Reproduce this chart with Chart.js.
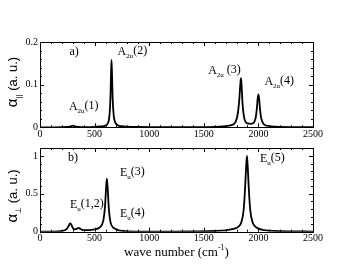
<!DOCTYPE html>
<html><head><meta charset="utf-8">
<script src="https://cdn.jsdelivr.net/npm/chart.js@4/dist/chart.umd.min.js"></script>
<style>
html,body{margin:0;padding:0;background:#fff;width:358px;height:273px;overflow:hidden}
canvas{position:absolute;left:0}
#c1{top:0}
#c2{top:140px}
</style></head><body>
<canvas id="c1" width="358" height="140"></canvas>
<canvas id="c2" width="358" height="133"></canvas>
<script>
// ---- data ----
const waveA = [0,100,200,250,280,300,320,350,400,500,550,600,620,635,645,650,655,660,665,675,690,710,750,800,900,1000,1200,1400,1600,1700,1750,1790,1810,1825,1835,1840,1845,1855,1870,1900,1930,1960,1975,1985,1993,2000,2007,2015,2025,2050,2100,2200,2300,2400,2500];
const alphaPar = [0,0,0.0005,0.001,0.002,0.004,0.002,0.001,0.0005,0.001,0.002,0.004,0.009,0.025,0.07,0.12,0.158,0.12,0.07,0.028,0.011,0.005,0.0025,0.0015,0.0008,0.0005,0.0004,0.0005,0.001,0.003,0.005,0.012,0.03,0.065,0.103,0.115,0.103,0.055,0.022,0.009,0.008,0.012,0.022,0.042,0.066,0.077,0.066,0.042,0.022,0.007,0.003,0.001,0.0005,0.0003,0.0002];
const waveB = [0,100,200,240,260,275,285,300,320,340,355,370,400,450,500,550,580,595,605,612,620,630,645,670,700,720,760,800,1000,1200,1400,1600,1700,1780,1820,1845,1865,1878,1887,1895,1903,1912,1925,1945,1970,2000,2050,2100,2200,2300,2500];
const alphaPerp = [0,0.001,0.01,0.03,0.07,0.11,0.10,0.05,0.03,0.04,0.05,0.035,0.02,0.02,0.03,0.06,0.15,0.33,0.57,0.70,0.57,0.31,0.13,0.055,0.032,0.018,0.009,0.005,0.002,0.002,0.004,0.009,0.018,0.04,0.07,0.13,0.29,0.57,0.84,1.0,0.84,0.57,0.29,0.13,0.07,0.04,0.022,0.014,0.007,0.004,0.002];
const xTicks = [0,500,1000,1500,2000,2500];
const yTicksA = [0,0.1,0.2];
const yTicksB = [0,0.5,1];
const labelsA = [
  {x:270,y:0.169,main:'a)',sub:'',tail:''},
  {x:265,y:0.040,main:'A',sub:'2u',tail:'(1)'},
  {x:710,y:0.170,main:'A',sub:'2u',tail:'(2)'},
  {x:1540,y:0.125,main:'A',sub:'2u',tail:' (3)'},
  {x:2055,y:0.099,main:'A',sub:'2u',tail:'(4)'}
];
const labelsB = [
  {x:257,y:0.93,main:'b)',sub:'',tail:''},
  {x:275,y:0.31,main:'E',sub:'u',tail:'(1,2)'},
  {x:733,y:0.74,main:'E',sub:'u',tail:'(3)'},
  {x:733,y:0.19,main:'E',sub:'u',tail:'(4)'},
  {x:2015,y:0.92,main:'E',sub:'u',tail:'(5)'}
];

const SERIF = '"Liberation Serif","Times New Roman",serif';
const SANS = '"Liberation Sans",Arial,sans-serif';

function frameTicks(xMajor, xStep, yMajor, yStep) {
  return {
    id: 'frameTicks',
    afterDraw(chart) {
      const {ctx, chartArea: a, scales: {x, y}} = chart;
      ctx.save();
      ctx.strokeStyle = '#000';
      ctx.lineWidth = 1;
      ctx.strokeRect(Math.round(a.left) + 0.5, Math.round(a.top) + 0.5, Math.round(a.right - a.left), Math.round(a.bottom - a.top));
      ctx.beginPath();
      for (let v = x.min; v <= x.max + 1e-9; v += xStep) {
        const major = xMajor.some(m => Math.abs(m - v) < 1e-6);
        const L = major ? 4 : 2;
        const px = Math.round(x.getPixelForValue(v)) + 0.5;
        ctx.moveTo(px, a.bottom); ctx.lineTo(px, a.bottom - L);
        ctx.moveTo(px, a.top); ctx.lineTo(px, a.top + L);
      }
      for (let v = y.min; v <= y.max + 1e-9; v += yStep) {
        const major = yMajor.some(m => Math.abs(m - v) < 1e-6);
        const L = major ? 4 : 2;
        const py = Math.round(y.getPixelForValue(v)) + 0.5;
        ctx.moveTo(a.left, py); ctx.lineTo(a.left + L, py);
        ctx.moveTo(a.right, py); ctx.lineTo(a.right - L, py);
      }
      ctx.stroke();
      ctx.restore();
    }
  };
}

function textLabels(list, ysub, ycy, xtitle) {
  return {
    id: 'textLabels',
    afterDraw(chart) {
      const {ctx, scales: {x, y}} = chart;
      ctx.save();
      ctx.fillStyle = '#000';
      ctx.textBaseline = 'alphabetic';
      ctx.textAlign = 'left';
      for (const l of list) {
        let px = x.getPixelForValue(l.x);
        const py = y.getPixelForValue(l.y);
        ctx.font = '12px ' + SERIF;
        ctx.fillText(l.main, px, py);
        px += ctx.measureText(l.main).width;
        if (l.sub) {
          ctx.font = '7px ' + SERIF;
          ctx.fillText(l.sub, px, py + 3);
          px += ctx.measureText(l.sub).width;
        }
        if (l.tail) {
          ctx.font = '12px ' + SERIF;
          ctx.fillText(l.tail, px, py - 1);
        }
      }
      // y title (rotated)
      ctx.translate(17, ycy);
      ctx.rotate(-Math.PI / 2);
      ctx.font = '15px ' + SANS;
      const w1 = ctx.measureText('α').width;
      ctx.font = '8px ' + SANS;
      const w2 = ctx.measureText(ysub).width;
      ctx.font = '13px ' + SANS;
      const w3 = ctx.measureText(' (a. u.)').width;
      let sx = -(w1 + w2 + w3) / 2;
      ctx.font = '15px ' + SANS;
      ctx.fillText('α', sx, 0); sx += w1;
      ctx.font = '8px ' + SANS;
      ctx.fillText(ysub, sx, 4); sx += w2;
      ctx.font = '13px ' + SANS;
      ctx.fillText(' (a. u.)', sx, 0);
      ctx.restore();
      if (xtitle) {
        ctx.save();
        ctx.fillStyle = '#000';
        ctx.textBaseline = 'alphabetic';
        const a = 'wave number (cm', s = '-1', b = ')';
        ctx.font = '13px ' + SERIF; const wa = ctx.measureText(a).width, wb = ctx.measureText(b).width;
        ctx.font = '8px ' + SERIF; const ws = ctx.measureText(s).width;
        const cx = (chart.chartArea.left + chart.chartArea.right) / 2;
        let sx2 = cx - (wa + ws + wb) / 2;
        const by = 116;
        ctx.font = '13px ' + SERIF; ctx.fillText(a, sx2, by); sx2 += wa;
        ctx.font = '8px ' + SERIF; ctx.fillText(s, sx2, by - 6); sx2 += ws;
        ctx.font = '13px ' + SERIF; ctx.fillText(b, sx2, by);
        ctx.restore();
      }
    }
  };
}

function makeChart(id, xs, ys, yMax, yTicks, yStep, padTop, xHeight, labels, ysub, ycy, xtitle) {
  const pts = xs.map((v, i) => ({x: v, y: ys[i]}));
  return new Chart(document.getElementById(id), {
    type: 'line',
    data: {datasets: [{data: pts, borderColor: '#000', borderWidth: 1.8, pointRadius: 0, cubicInterpolationMode: 'monotone', fill: false}]},
    options: {
      responsive: false, animation: false, devicePixelRatio: 1,
      layout: {padding: {top: padTop, right: 45, left: 0, bottom: 0}},
      plugins: {legend: {display: false}, tooltip: {enabled: false}},
      scales: {
        x: {
          type: 'linear', min: 0, max: 2500,
          afterBuildTicks: s => { s.ticks = xTicks.map(v => ({value: v})); },
          afterFit: s => { s.height = xHeight; },
          grid: {display: false, drawTicks: false}, border: {display: false},
          ticks: {color: '#000', font: {family: SERIF, size: 10}, padding: 1, maxRotation: 0, callback: v => String(v)}
        },
        y: {
          type: 'linear', min: 0, max: yMax,
          afterBuildTicks: s => { s.ticks = yTicks.map(v => ({value: v})); },
          afterFit: s => { s.width = 40; },
          grid: {display: false, drawTicks: false}, border: {display: false},
          ticks: {color: '#000', font: {family: SERIF, size: 10}, padding: 2, callback: v => String(v)}
        }
      }
    },
    plugins: [frameTicks(xTicks, 100, yTicks, yStep), textLabels(labels, ysub, ycy, xtitle)]
  });
}

makeChart('c1', waveA, alphaPar, 0.2, yTicksA, 0.02, 42, 12.7, labelsA, '||', 82, false);
makeChart('c2', waveB, alphaPerp, 1.106, yTicksB, 0.1, 5, 41.3, labelsB, '⊥', 56, true);
</script>
</body></html>
